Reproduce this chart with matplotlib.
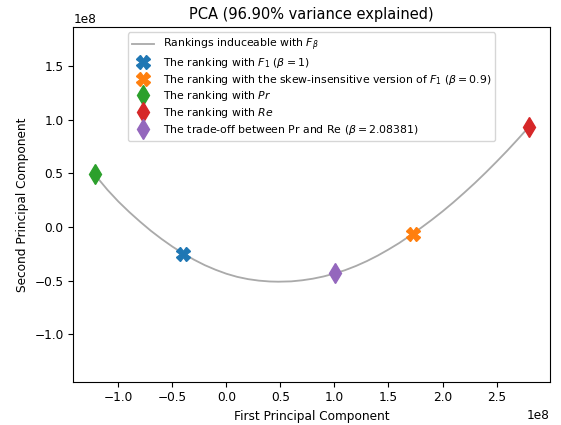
import matplotlib
matplotlib.use("Agg")
import matplotlib.pyplot as plt

S = 0.877  # reference was rendered at ~88 dpi
plt.rcParams["font.size"] = 10 * S

# curve of rankings induceable with F_beta (units of 1e8)
curve_x = [-1.22, -1.1, -1.0, -0.9, -0.8, -0.7, -0.6, -0.5, -0.4, -0.3, -0.2, -0.1,
           0.0, 0.1, 0.2, 0.3, 0.4, 0.48, 0.6, 0.7, 0.8, 0.9, 1.0, 1.1, 1.2, 1.3,
           1.4, 1.5, 1.6, 1.7, 1.8, 1.9, 2.0, 2.1, 2.2, 2.3, 2.4, 2.5, 2.6, 2.7, 2.8]
curve_y = [0.49, 0.345, 0.237, 0.14, 0.05, -0.035, -0.112, -0.183, -0.247, -0.305,
           -0.356, -0.399, -0.436, -0.465, -0.486, -0.5, -0.508, -0.51, -0.507, -0.497,
           -0.482, -0.461, -0.434, -0.402, -0.363, -0.318, -0.267, -0.21, -0.149, -0.081,
           -0.009, 0.066, 0.145, 0.229, 0.318, 0.41, 0.507, 0.608, 0.712, 0.821, 0.933]

# highlighted rankings
point_labels = [
    r"The ranking with $F_1$ ($\beta = 1$)",
    r"The ranking with the skew-insensitive version of $F_1$ ($\beta = 0.9$)",
    r"The ranking with $Pr$",
    r"The ranking with $Re$",
    r"The trade-off between Pr and Re ($\beta = 2.08381$)",
]
point_x = [-0.403, 1.725, -1.216, 2.80, 1.008]
point_y = [-0.252, -0.063, 0.49, 0.935, -0.431]
point_markers = ["X", "X", "d", "d", "d"]
point_colors = ["tab:blue", "tab:orange", "tab:green", "tab:red", "tab:purple"]

E8 = 1e8

fig, ax = plt.subplots(figsize=(5.61, 4.25), dpi=100)
fig.subplots_adjust(left=0.1307, right=0.9804, top=0.9365, bottom=0.1019)

ax.plot([x * E8 for x in curve_x], [y * E8 for y in curve_y], color="#aaaaaa",
        linewidth=1.5 * S, label=r"Rankings induceable with $F_\beta$", zorder=2)
for x, y, m, c, lab in zip(point_x, point_y, point_markers, point_colors, point_labels):
    ms = 10 if m == "X" else 10.5
    ax.plot([x * E8], [y * E8], linestyle="none", marker=m, markersize=ms,
            color=c, label=lab, zorder=3)

ax.set_xlim(-1.417 * E8, 2.995 * E8)
ax.set_ylim(-1.442 * E8, 1.864 * E8)
ax.set_title("PCA (96.90% variance explained)", fontsize=12 * S)
ax.set_xlabel("First Principal Component")
ax.set_ylabel("Second Principal Component")
ax.legend(loc="upper center", fontsize=7.8, labelspacing=0.25)

fig.savefig("out.png", dpi=100)
